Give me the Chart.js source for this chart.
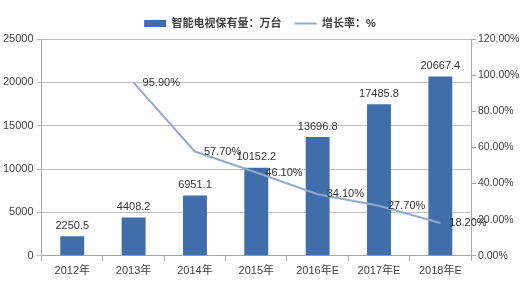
<!DOCTYPE html>
<html>
<head>
<meta charset="utf-8">
<script src="https://cdn.jsdelivr.net/npm/chart.js@4/dist/chart.umd.min.js"></script>
<style>
    html, body { margin: 0; padding: 0; background: #fff; }
    #wrap { width: 520px; height: 290px; position: relative; }
</style>
</head>
<body>
<div id="wrap"><canvas id="tvChart"></canvas></div>
<script>
// Data
const years = ['2012年', '2013年', '2014年', '2015年', '2016年E', '2017年E', '2018年E'];
const tvStock = [2250.5, 4408.2, 6951.1, 10152.2, 13696.8, 17485.8, 20667.4];
const growthRate = [null, 95.9, 57.7, 46.1, 34.1, 27.7, 18.2];

const FONT = "'Liberation Sans', 'Noto Sans CJK SC', sans-serif";
const TEXT = '#404040';

// Value labels above bars / right of line points
const valueLabels = {
    id: 'valueLabels',
    afterDatasetsDraw(chart) {
        const ctx = chart.ctx;
        ctx.save();
        ctx.font = '11px ' + FONT;
        ctx.fillStyle = '#333';

        const bars = chart.getDatasetMeta(0).data;
        ctx.textAlign = 'center';
        ctx.textBaseline = 'bottom';
        bars.forEach((bar, i) => {
            ctx.fillText(tvStock[i].toFixed(1), bar.x, bar.y - 5);
        });

        const pts = chart.getDatasetMeta(1).data;
        ctx.textAlign = 'left';
        ctx.textBaseline = 'middle';
        pts.forEach((pt, i) => {
            if (growthRate[i] == null) return;
            ctx.fillText(growthRate[i].toFixed(2) + '%', pt.x + 9, pt.y);
        });
        ctx.restore();
    }
};

const ctx = document.getElementById('tvChart').getContext('2d');
new Chart(ctx, {
    type: 'bar',
    data: {
        labels: years,
        datasets: [{
            label: '智能电视保有量：万台',
            data: tvStock,
            backgroundColor: '#3F6EAB',
            yAxisID: 'y',
            barPercentage: 0.78,
            categoryPercentage: 0.5,
            pointStyle: 'rect',
            order: 2
        }, {
            type: 'line',
            label: '增长率：%',
            data: growthRate,
            borderColor: '#91AACB',
            backgroundColor: '#91AACB',
            borderWidth: 2,
            pointRadius: 0,
            pointStyle: 'line',
            tension: 0,
            yAxisID: 'y1',
            order: 1
        }]
    },
    options: {
        responsive: true,
        maintainAspectRatio: false,
        animation: false,
        layout: { padding: { left: 0, right: 0, top: 5, bottom: 8 } },
        plugins: {
            tooltip: { enabled: false },
            legend: {
                position: 'top',
                labels: {
                    usePointStyle: true,
                    pointStyleWidth: 22,
                    boxHeight: 7,
                    padding: 13,
                    color: TEXT,
                    sort: (a, b) => a.datasetIndex - b.datasetIndex,
                    font: { family: FONT, size: 11, weight: 'bold' }
                }
            }
        },
        scales: {
            x: {
                grid: { drawOnChartArea: false, drawTicks: true, tickLength: 5, color: '#A6A6A6' },
                border: { color: '#A6A6A6' },
                ticks: { color: TEXT, font: { family: FONT, size: 11 }, padding: 4 }
            },
            y: {
                position: 'left',
                min: 0,
                max: 25000,
                ticks: {
                    stepSize: 5000,
                    color: TEXT,
                    font: { family: FONT, size: 11 },
                    padding: 3,
                    callback: v => String(v)
                },
                grid: { color: '#BFBFBF', tickLength: 5 },
                border: { color: '#A6A6A6' }
            },
            y1: {
                position: 'right',
                min: 0,
                max: 120,
                afterFit: scale => { scale.width = 49; },
                ticks: {
                    stepSize: 20,
                    color: TEXT,
                    font: { family: FONT, size: 10.5 },
                    padding: 2,
                    callback: v => v.toFixed(2) + '%'
                },
                grid: { drawOnChartArea: false, tickLength: 5, color: '#A6A6A6' },
                border: { color: '#A6A6A6' }
            }
        }
    },
    plugins: [valueLabels]
});
</script>
</body>
</html>
